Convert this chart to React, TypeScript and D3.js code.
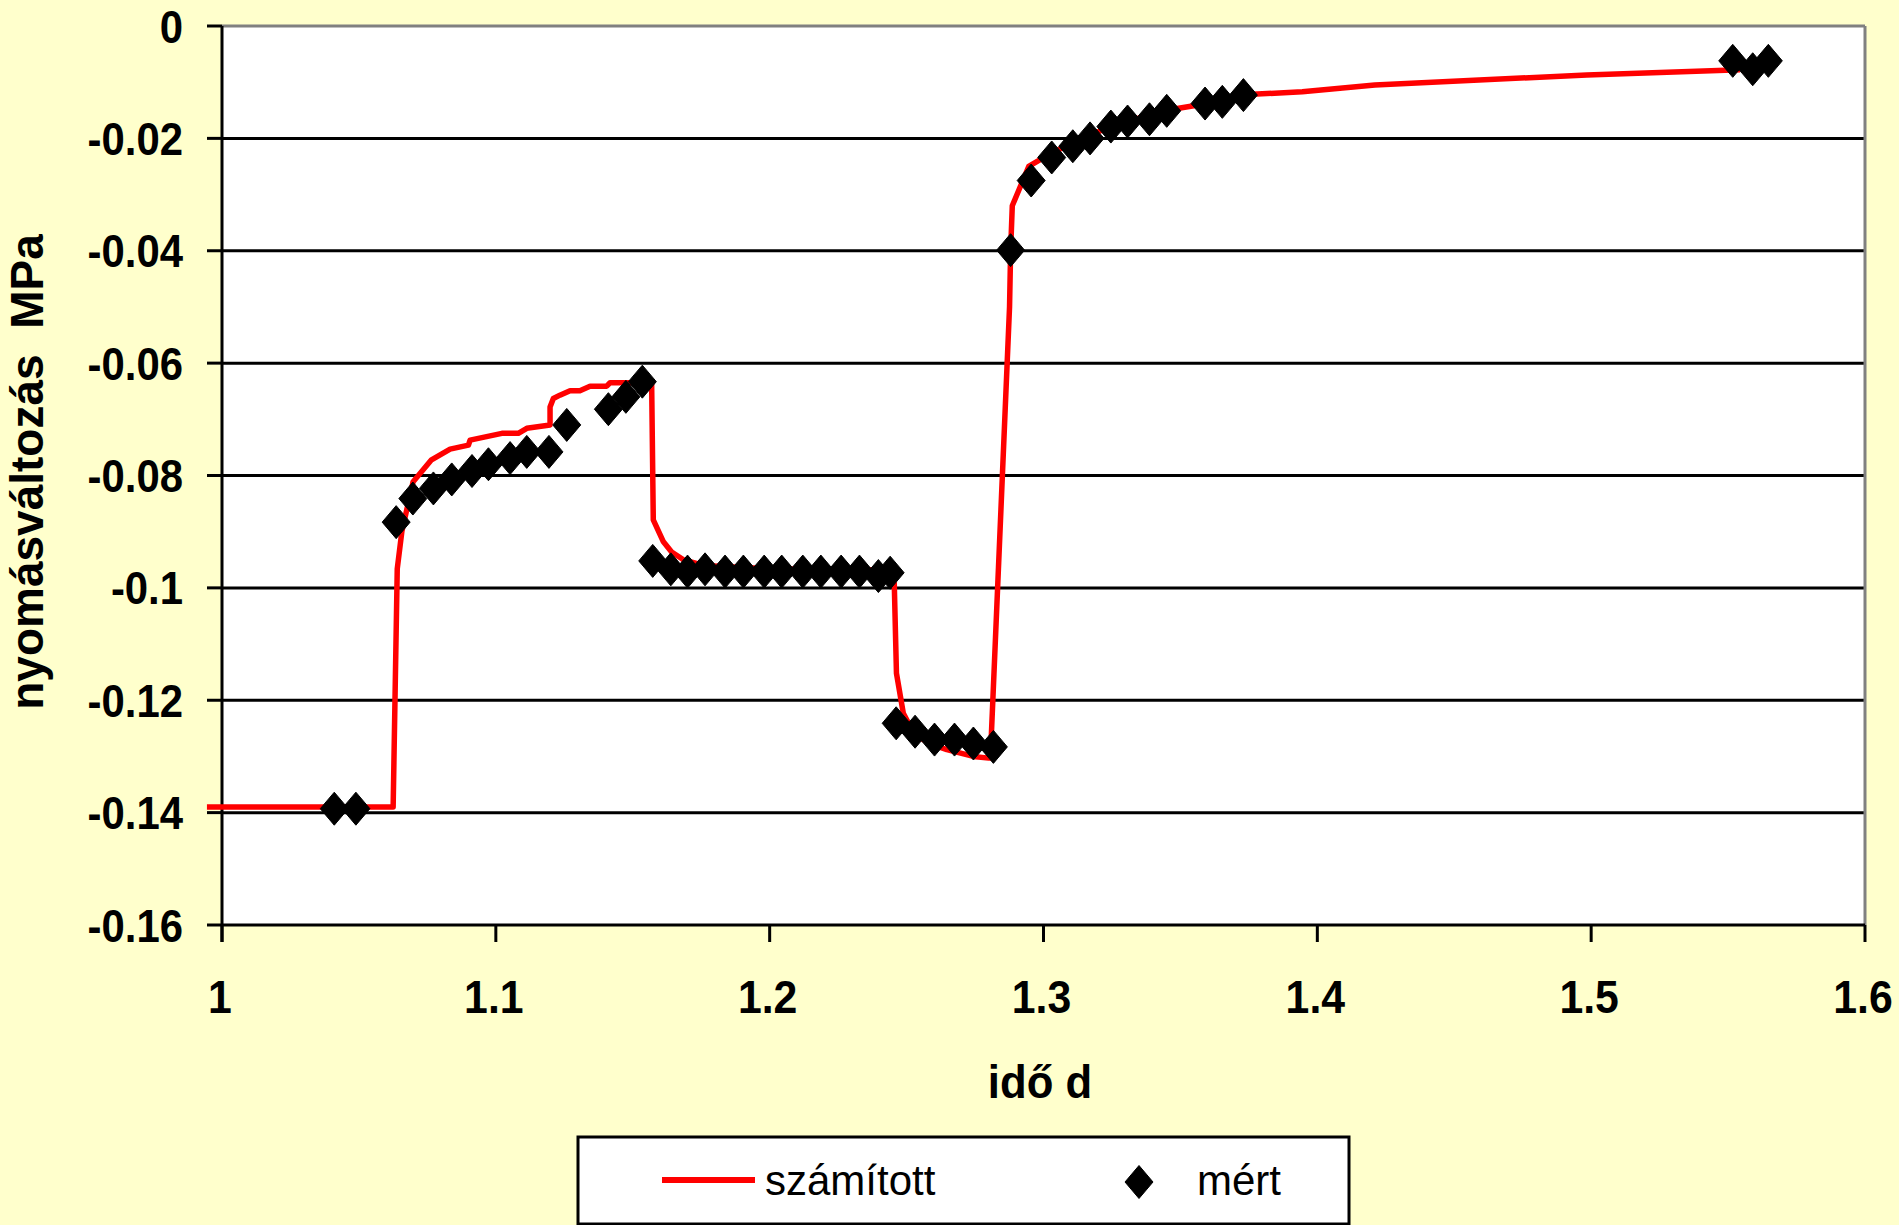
import React from "react";
import * as d3 from "d3";

// ---- data ----
const xTicks = [1, 1.1, 1.2, 1.3, 1.4, 1.5, 1.6];
const yTicks = [0, -0.02, -0.04, -0.06, -0.08, -0.1, -0.12, -0.14, -0.16];
const xTickLabels = ["1", "1.1", "1.2", "1.3", "1.4", "1.5", "1.6"];
const yTickLabels = ["0", "-0.02", "-0.04", "-0.06", "-0.08", "-0.1", "-0.12", "-0.14", "-0.16"];

// számított (computed) – red line
const calcX = [
  0.9945, 1.0625, 1.064, 1.0657, 1.0698, 1.0765, 1.0833, 1.09, 1.0906, 1.1022, 1.1082, 1.1113,
  1.1198, 1.1198, 1.121, 1.1234, 1.1271, 1.1307, 1.1344, 1.1405, 1.1417, 1.1569, 1.1575, 1.1612,
  1.1642, 1.1685, 1.176, 1.2, 1.244, 1.2455, 1.2463, 1.2488, 1.253, 1.26, 1.2647, 1.2744, 1.28,
  1.2806, 1.2876, 1.288, 1.2886, 1.2946, 1.303, 1.3107, 1.317, 1.3246, 1.3307, 1.3387, 1.345,
  1.356, 1.3653, 1.3745, 1.3945, 1.421, 1.4984, 1.5544,
];
const calcY = [
  -0.139, -0.139, -0.0966, -0.0899, -0.0811, -0.0772, -0.0753, -0.0746, -0.0737, -0.0725, -0.0725, -0.0716,
  -0.071, -0.0678, -0.0663, -0.0657, -0.0649, -0.0649, -0.0641, -0.0641, -0.0635, -0.0635, -0.0879, -0.0918,
  -0.0936, -0.095, -0.096, -0.0966, -0.0968, -0.0992, -0.1152, -0.1223, -0.1262, -0.128, -0.1288, -0.13, -0.1303,
  -0.1303, -0.05, -0.0399, -0.032, -0.025, -0.0226, -0.0208, -0.0195, -0.0178, -0.0168, -0.016, -0.015,
  -0.0141, -0.0134, -0.0122, -0.0117, -0.0105, -0.0087, -0.0078,
];

// mért (measured) – diamonds
const measX = [
  1.041, 1.0489, 1.0636, 1.0697, 1.0772, 1.0839, 1.0913, 1.0973, 1.1052, 1.1113, 1.1194, 1.1259,
  1.1411, 1.1475, 1.1535, 1.1573, 1.1639, 1.17, 1.1764, 1.1837, 1.1904, 1.198, 1.2044, 1.2121,
  1.2187, 1.2261, 1.2328, 1.2397, 1.244, 1.2462, 1.2531, 1.2602, 1.2675, 1.2744, 1.2817, 1.288,
  1.2955, 1.303, 1.3107, 1.317, 1.3246, 1.3307, 1.3387, 1.345, 1.359, 1.3653, 1.373, 1.5517,
  1.559, 1.5647,
];
const measY = [
  -0.1393, -0.1393, -0.0883, -0.0841, -0.0823, -0.0807, -0.0792, -0.078, -0.0769, -0.0758, -0.0758, -0.071,
  -0.0682, -0.066, -0.0633, -0.0952, -0.0967, -0.0971, -0.0967, -0.0971, -0.0971, -0.0971, -0.0971, -0.0971,
  -0.0971, -0.0971, -0.0971, -0.0979, -0.0973, -0.1241, -0.1256, -0.127, -0.127, -0.1277, -0.1283, -0.0399,
  -0.0275, -0.0234, -0.0214, -0.02, -0.0179, -0.017, -0.0166, -0.0151, -0.0138, -0.0135, -0.0123, -0.0062,
  -0.0077, -0.0062,
];

const seriesNames = ["számított", "mért"];
const xTitle = "idő d";
const yTitle = "nyomásváltozás  MPa";

// ---- layout ----
const W = 1899;
const H = 1225;
const left = 222;
const right = 1865;
const top = 26;
const bottom = 925;
const FONT = "'Liberation Sans', Arial, Helvetica, sans-serif";

const diamondPath = (hw: number, hh: number) =>
  `M0,${-hh}L${hw},0L0,${hh}L${-hw},0Z`;

export default function App() {
  const x = d3.scaleLinear().domain([1, 1.6]).range([left, right]);
  const y = d3.scaleLinear().domain([-0.16, 0]).range([bottom, top]);

  const calc = calcX.map((v, i) => [v, calcY[i]] as [number, number]);
  const meas = measX.map((v, i) => [v, measY[i]] as [number, number]);

  const line = d3
    .line<[number, number]>()
    .x((d) => x(d[0]))
    .y((d) => y(d[1]));

  const dPath = diamondPath(14, 16.5);

  return (
    <svg
      width={W}
      height={H}
      style={{ position: "absolute", left: 0, top: 0, display: "block" }}
    >
      <rect x={0} y={0} width={W} height={H} fill="#FFFFCC" />
      <rect x={left} y={top} width={right - left} height={bottom - top} fill="#FFFFFF" />

      {/* gridlines */}
      {yTicks
        .filter((t) => t !== 0 && t !== -0.16)
        .map((t) => (
          <line key={"g" + t} x1={left} x2={right} y1={y(t)} y2={y(t)} stroke="#000" strokeWidth={3} />
        ))}
      {/* plot border top/right */}
      <line x1={left} x2={right} y1={top} y2={top} stroke="#808080" strokeWidth={3} />
      <line x1={right} x2={right} y1={top} y2={bottom} stroke="#808080" strokeWidth={3} />

      {/* y axis */}
      <line x1={left} x2={left} y1={top} y2={bottom + 17} stroke="#000" strokeWidth={3} />
      {yTicks.map((t) => (
        <line key={"yt" + t} x1={left - 15} x2={left} y1={y(t)} y2={y(t)} stroke="#000" strokeWidth={3} />
      ))}
      {yTicks.map((t, i) => (
        <text
          key={"yl" + t}
          transform={`translate(183,${y(t)}) scale(0.91,1)`}
          dy="0.36em"
          textAnchor="end"
          fontFamily={FONT}
          fontWeight="bold"
          fontSize={46}
          fill="#000"
        >
          {yTickLabels[i]}
        </text>
      ))}

      {/* x axis */}
      <line x1={left} x2={right} y1={bottom} y2={bottom} stroke="#000" strokeWidth={3} />
      {xTicks.map((t) => (
        <line key={"xt" + t} x1={x(t)} x2={x(t)} y1={bottom} y2={bottom + 17} stroke="#000" strokeWidth={3} />
      ))}
      {xTicks.map((t, i) => (
        <text
          key={"xl" + t}
          transform={`translate(${x(t) - 2},1013) scale(0.93,1)`}
          textAnchor="middle"
          fontFamily={FONT}
          fontWeight="bold"
          fontSize={46}
          fill="#000"
        >
          {xTickLabels[i]}
        </text>
      ))}

      {/* axis titles */}
      <text
        transform="translate(1040,1098) scale(0.95,1)"
        textAnchor="middle"
        fontFamily={FONT}
        fontWeight="bold"
        fontSize={46}
        fill="#000"
      >
        {xTitle}
      </text>
      <text
        transform={`translate(43,472) rotate(-90)`}
        textAnchor="middle"
        fontFamily={FONT}
        fontWeight="bold"
        fontSize={46}
        fill="#000"
        style={{ whiteSpace: "pre" }}
      >
        {yTitle}
      </text>

      {/* computed line */}
      <path d={line(calc) || ""} fill="none" stroke="#FF0000" strokeWidth={5.5} strokeLinejoin="round" />

      {/* measured diamonds */}
      {meas.map((d, i) => (
        <path
          key={"m" + i}
          d={dPath}
          transform={`translate(${x(d[0])},${y(d[1])})`}
          fill="#000"
          stroke="#000"
          strokeWidth={1}
          strokeLinejoin="round"
        />
      ))}

      {/* legend */}
      <rect x={578} y={1137} width={771} height={87} fill="#FFFFFF" stroke="#000" strokeWidth={3} />
      <line x1={662} x2={755} y1={1180} y2={1180} stroke="#FF0000" strokeWidth={6} />
      <text x={765} y={1195} fontFamily={FONT} fontSize={42} fill="#000">
        {seriesNames[0]}
      </text>
      <path d={dPath} transform="translate(1139,1182)" fill="#000" stroke="#000" strokeWidth={1} />
      <text x={1197} y={1195} fontFamily={FONT} fontSize={42} fill="#000">
        {seriesNames[1]}
      </text>
    </svg>
  );
}
